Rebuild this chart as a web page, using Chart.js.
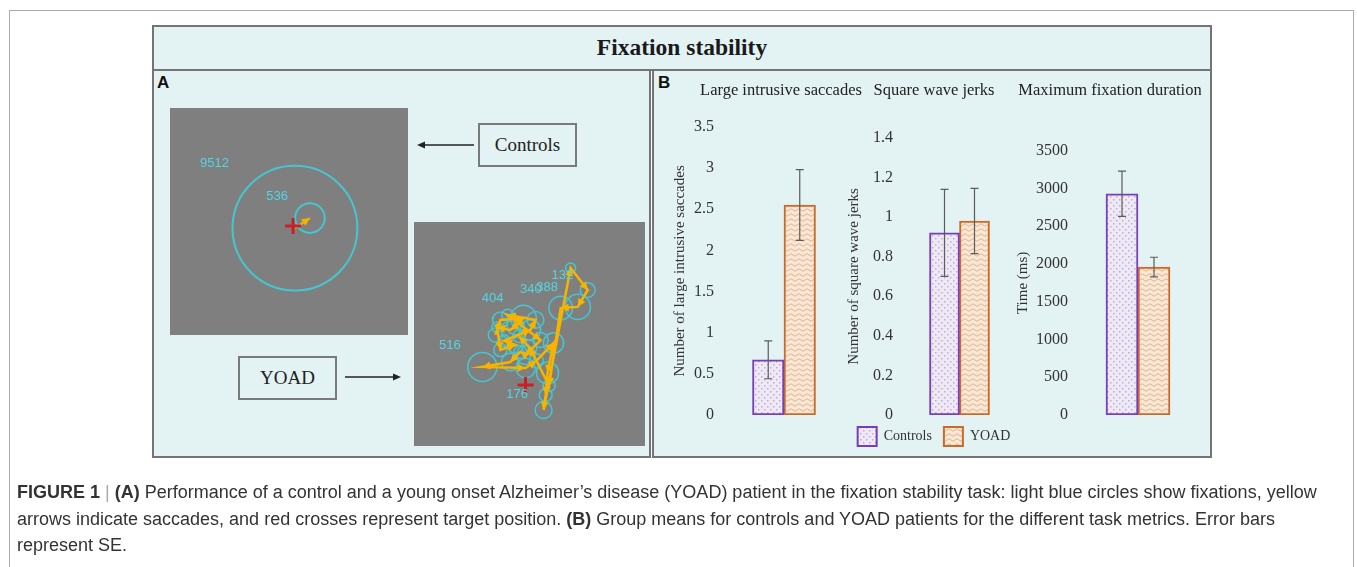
<!DOCTYPE html>
<html>
<head>
<meta charset="utf-8">
<script src="https://cdn.jsdelivr.net/npm/chart.js@4.4.0/dist/chart.umd.min.js"></script>
<style>
  body { margin: 0; width: 1357px; height: 567px; background: #fff; position: relative; overflow: hidden; }
  .abs { position: absolute; box-sizing: border-box; }
  canvas { position: absolute; }
  #frame { left: 9px; top: 10px; width: 1345px; height: 600px; border: 1px solid #ababab; }
  #titleBand { left: 152px; top: 25px; width: 1060px; height: 46px; border: 2px solid #747474; background: #e3f2f3;
    text-align: center; font: bold 23.5px "Liberation Serif", serif; line-height: 41px; color: #1a1a1a; }
  #panelA { left: 152px; top: 69px; width: 499px; height: 389px; border: 2px solid #747474; background: #e3f2f3; }
  #panelB { left: 652px; top: 69px; width: 560px; height: 389px; border: 2px solid #747474; background: #e3f2f3; }
  .tag { font: bold 17px "Liberation Sans", sans-serif; color: #111; }
  .box { border: 2px solid #7a7a7a; background: #e3f2f3; font: 19px "Liberation Serif", serif; color: #222;
    display: flex; align-items: center; justify-content: center; }
  #caption { left: 17px; top: 479px; font: 18px "Liberation Sans", sans-serif; line-height: 26.5px; color: #333; white-space: nowrap; }
</style>
</head>
<body>
<div class="abs" id="frame"></div>
<div class="abs" id="titleBand">Fixation stability</div>
<div class="abs" id="panelA"></div>
<div class="abs" id="panelB"></div>
<div class="abs tag" style="left:157px; top:73px;">A</div>
<div class="abs tag" style="left:658px; top:73px;">B</div>

<canvas id="ctrlFix" width="238" height="227" style="left:170px; top:108px;"></canvas>
<canvas id="yoadFix" width="231" height="224" style="left:414px; top:222px;"></canvas>
<div class="abs box" style="left:478px; top:123px; width:99px; height:44px;">Controls</div>
<div class="abs box" style="left:238px; top:356px; width:99px; height:44px;">YOAD</div>
<svg class="abs" style="left:0; top:0;" width="1357" height="567">
  <line x1="474" y1="145" x2="424" y2="145" stroke="#222" stroke-width="1.3"/>
  <polygon points="417,145 425,141.5 425,148.5" fill="#222"/>
  <line x1="345" y1="377" x2="394" y2="377" stroke="#222" stroke-width="1.3"/>
  <polygon points="401,377 393,373.5 393,380.5" fill="#222"/>
</svg>

<canvas id="m1" width="234" height="370" style="left:661px; top:72px;"></canvas>
<canvas id="m2" width="192" height="384" style="left:835px; top:72px;"></canvas>
<canvas id="m3" width="206" height="370" style="left:1004px; top:72px;"></canvas>

<div class="abs" id="caption"><b>FIGURE 1</b> <span style="color:#aaa">|</span> <b>(A)</b> Performance of a control and a young onset Alzheimer’s disease (YOAD) patient in the fixation stability task: light blue circles show fixations, yellow<br>arrows indicate saccades, and red crosses represent target position. <b>(B)</b> Group means for controls and YOAD patients for the different task metrics. Error bars<br>represent SE.</div>

<script>
// Panel B data
const metrics = ["Large intrusive saccades", "Square wave jerks", "Maximum fixation duration"];
const axisTitles = ["Number of large intrusive saccades", "Number of square wave jerks", "Time (ms)"];
const axisMax = [3.5, 1.4, 3500];
const axisStep = [0.5, 0.2, 500];
const groups = ["Controls", "YOAD"];
const controlsMean = [0.67, 0.92, 2930];
const controlsSE = [0.23, 0.22, 300];
const yoadMean = [2.55, 0.98, 1960];
const yoadSE = [0.43, 0.165, 130];

// Panel A data (screen coordinates 0-100, durations in ms)
const controlFixX = [52.5, 58.8];
const controlFixY = [47.1, 51.5];
const controlFixDur = [9512, 536];
const controlFixLabel = ["9512", "536"];
const controlTarget = [51.7, 48.0];

const yoadFixX = [35.2, 37.4, 47.4, 44.0, 41.7, 36.0, 37.4, 43.9, 39.0, 50.4, 52.6, 40.5, 54.8, 48.3, 46.0, 41.7, 29.6, 48.3, 53.0, 60.4, 57.8, 57.0, 56.1, 67.8, 75.2, 70.9, 63.5, 58.5, 50.0, 45.5];
const yoadFixY = [49.6, 56.3, 57.1, 53.5, 51.8, 53.0, 42.9, 45.1, 47.0, 51.8, 56.3, 58.5, 47.3, 40.6, 42.0, 37.5, 35.3, 34.8, 38.0, 46.0, 32.6, 22.8, 16.1, 79.5, 69.6, 62.1, 61.6, 27.0, 44.0, 49.0];
const yoadFixDur = [120, 150, 404, 180, 200, 70, 110, 160, 90, 250, 170, 80, 140, 220, 100, 190, 516, 230, 120, 250, 300, 100, 176, 60, 132, 388, 340, 90, 130, 100];
const yoadFixLabel = ["", "", "404", "", "", "", "", "", "", "", "", "", "", "", "", "", "516", "", "", "", "", "", "176", "", "132", "388", "340", "", "", ""];
const yoadTarget = [48.3, 27.2];

// ---------- panel A ----------
const grayArea = {
  id: "grayArea",
  beforeDraw(chart) {
    const { ctx, chartArea: a } = chart;
    ctx.save();
    ctx.fillStyle = "#7f7f7f";
    ctx.fillRect(a.left, a.top, a.width, a.height);
    ctx.restore();
  }
};

const saccadeHeads = {
  id: "saccadeHeads",
  afterDatasetDraw(chart, args) {
    if (args.index !== 1) return;
    const ctx = chart.ctx;
    const pts = args.meta.data;
    ctx.save();
    ctx.fillStyle = "#f4b400";
    for (let i = 1; i < pts.length; i++) {
      const a = pts[i - 1], b = pts[i];
      const ang = Math.atan2(b.y - a.y, b.x - a.x);
      ctx.beginPath();
      ctx.moveTo(b.x, b.y);
      ctx.lineTo(b.x - 8 * Math.cos(ang) + 4 * Math.sin(ang), b.y - 8 * Math.sin(ang) - 4 * Math.cos(ang));
      ctx.lineTo(b.x - 8 * Math.cos(ang) - 4 * Math.sin(ang), b.y - 8 * Math.sin(ang) + 4 * Math.cos(ang));
      ctx.closePath();
      ctx.fill();
    }
    ctx.restore();
  }
};

const fixLabels = {
  id: "fixLabels",
  afterDatasetsDraw(chart) {
    const ctx = chart.ctx;
    const ds = chart.data.datasets[2];
    const meta = chart.getDatasetMeta(2);
    ctx.save();
    ctx.fillStyle = "#52d6e2";
    ctx.font = "13px 'Liberation Sans', sans-serif";
    ctx.textAlign = "center";
    ctx.textBaseline = "middle";
    meta.data.forEach((el, i) => {
      const txt = ds.labels[i];
      if (!txt) return;
      const r = ds.data[i].r;
      ctx.fillText(txt, el.x - (r + 18), el.y - (0.9 * r + 8));
    });
    ctx.restore();
  }
};

function fixationChart(id, xs, ys, durs, labels, target, lw, sw) {
  return new Chart(document.getElementById(id), {
    data: {
      datasets: [
        { type: "scatter", data: [{ x: target[0], y: target[1] }], pointStyle: "cross", pointRadius: 8,
          borderColor: "#c8202a", borderWidth: 3 },
        { type: "line", data: xs.map((x, i) => ({ x, y: ys[i] })), borderColor: "#f4b400", borderWidth: sw,
          pointRadius: 0, tension: 0 },
        { type: "bubble", data: xs.map((x, i) => ({ x, y: ys[i], r: 0.64 * Math.sqrt(durs[i]) })),
          labels: labels, backgroundColor: "rgba(0,0,0,0)", borderColor: "#45c6d0", borderWidth: lw }
      ]
    },
    options: {
      responsive: false,
      animation: false,
      layout: { padding: 0, autoPadding: false },
      plugins: { legend: { display: false }, tooltip: { enabled: false } },
      scales: {
        x: { type: "linear", min: 0, max: 100, display: false },
        y: { type: "linear", min: 0, max: 100, display: false }
      }
    },
    plugins: [grayArea, saccadeHeads, fixLabels]
  });
}

fixationChart("ctrlFix", controlFixX, controlFixY, controlFixDur, controlFixLabel, controlTarget, 2, 2);
fixationChart("yoadFix", yoadFixX, yoadFixY, yoadFixDur, yoadFixLabel, yoadTarget, 1.5, 2.5);

// ---------- panel B ----------
Chart.defaults.font.family = "'Liberation Serif', 'Times New Roman', serif";
Chart.defaults.color = "#333";

function makePattern(kind) {
  const c = document.createElement("canvas");
  const g = c.getContext("2d");
  if (kind === "dots") {
    c.width = 6; c.height = 6;
    g.fillStyle = "#efe8f6";
    g.fillRect(0, 0, 6, 6);
    g.fillStyle = "#bcafcc";
    g.fillRect(1, 1, 1.5, 1.5);
    g.fillRect(4, 4, 1.5, 1.5);
  } else {
    c.width = 8; c.height = 5;
    g.fillStyle = "#f8e7d5";
    g.fillRect(0, 0, 8, 5);
    g.strokeStyle = "#e0b38d";
    g.lineWidth = 1;
    g.beginPath();
    g.moveTo(0, 3);
    g.quadraticCurveTo(2, 0.5, 4, 3);
    g.quadraticCurveTo(6, 5.5, 8, 3);
    g.stroke();
  }
  return g.createPattern(c, "repeat");
}
const dotFill = makePattern("dots");
const waveFill = makePattern("waves");

const errorBars = {
  id: "errorBars",
  afterDatasetsDraw(chart) {
    const ctx = chart.ctx, y = chart.scales.y;
    chart.data.datasets.forEach((ds, di) => {
      chart.getDatasetMeta(di).data.forEach((bar, k) => {
        const m = ds.data[k], e = ds.se[k];
        const top = y.getPixelForValue(m + e), bot = y.getPixelForValue(m - e);
        ctx.save();
        ctx.strokeStyle = "#5c5c5c";
        ctx.lineWidth = 1.2;
        ctx.beginPath();
        ctx.moveTo(bar.x, top); ctx.lineTo(bar.x, bot);
        ctx.moveTo(bar.x - 4, top); ctx.lineTo(bar.x + 4, top);
        ctx.moveTo(bar.x - 4, bot); ctx.lineTo(bar.x + 4, bot);
        ctx.stroke();
        ctx.restore();
      });
    });
  }
};

function metricChart(id, i, L) {
  return new Chart(document.getElementById(id), {
    type: "bar",
    data: {
      labels: [metrics[i]],
      datasets: [
        { label: groups[0], data: [controlsMean[i]], se: [controlsSE[i]], backgroundColor: dotFill,
          borderColor: "#7a3db8", borderWidth: 2, borderSkipped: false, barThickness: L.thick },
        { label: groups[1], data: [yoadMean[i]], se: [yoadSE[i]], backgroundColor: waveFill,
          borderColor: "#c96a2b", borderWidth: 2, borderSkipped: false, barThickness: L.thick }
      ]
    },
    options: {
      responsive: false,
      animation: false,
      layout: { padding: { left: 6, right: 0, top: 0, bottom: L.bottom } },
      plugins: {
        tooltip: { enabled: false },
        title: { display: true, text: metrics[i], color: "#222",
          font: { size: 16.5, weight: "normal" }, padding: { top: 9, bottom: L.titleGap } },
        legend: { display: L.legend, position: "bottom",
          labels: { boxWidth: 19, boxHeight: 19, padding: 12, color: "#333", font: { size: 14 } } }
      },
      scales: {
        x: { display: false },
        y: {
          min: 0, max: axisMax[i],
          afterFit: (s) => { s.width = L.axisWidth; },
          grid: { display: false, drawTicks: false }, border: { display: false },
          ticks: { stepSize: axisStep[i], padding: 3, color: "#333", font: { size: 16 },
            callback: (v) => String(+v.toFixed(2)) },
          title: { display: true, text: axisTitles[i], color: "#333", font: { size: 15 }, padding: { top: 4, bottom: 0 } }
        },
        spacer: {
          position: "right",
          afterFit: (s) => { s.width = L.rightSpace; },
          grid: { display: false, drawTicks: false }, border: { display: false }, ticks: { display: false }
        }
      }
    },
    plugins: [errorBars]
  });
}

metricChart("m1", 0, { bottom: 27, titleGap: 26, legend: false, axisWidth: 50, rightSpace: 44, thick: 31.5 });
metricChart("m2", 1, { bottom: 0, titleGap: 37, legend: true, axisWidth: 55, rightSpace: 4, thick: 30 });
metricChart("m3", 2, { bottom: 27, titleGap: 50, legend: false, axisWidth: 61, rightSpace: 5, thick: 32 });
</script>
</body>
</html>
